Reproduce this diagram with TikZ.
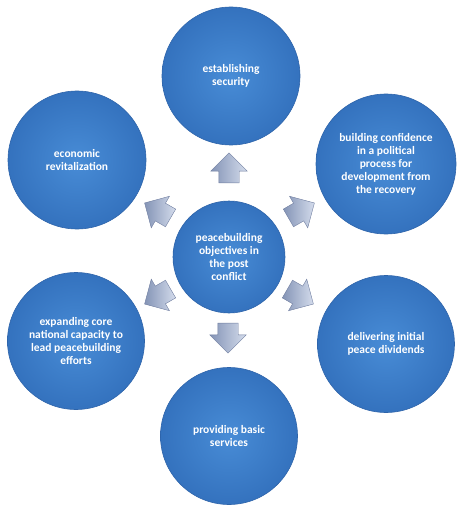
\documentclass[tikz,border=0pt]{standalone}
\usepackage{fontspec}
\setmainfont{Carlito}
\usetikzlibrary{shapes.arrows,shadows}
\definecolor{blueIn}{RGB}{72,140,214}
\definecolor{blueOut}{RGB}{52,114,190}
\definecolor{blueEdge}{RGB}{46,100,170}
\definecolor{arrDark}{RGB}{132,148,182}
\definecolor{arrLight}{RGB}{212,220,236}
\definecolor{arrEdge}{RGB}{112,126,160}
\tikzset{
  bubble/.style={circle, inner sep=0pt, minimum size=#1, draw=blueEdge, line width=0.6pt,
     shading=radial, inner color=blueIn, outer color=blueOut,
     text=white, font=\bfseries\fontsize{11.5}{13}\selectfont, align=center},
  blockarrow/.style={single arrow, draw=arrEdge, line width=0.4pt,
     left color=arrDark, right color=arrLight,
     minimum height=30pt, single arrow head extend=8pt,
     single arrow head indent=0pt,
     inner xsep=0pt, inner ysep=10pt, text width=0pt}
}
\begin{document}
\begin{tikzpicture}[x=1pt,y=-1pt]
\useasboundingbox (0,0) rectangle (471,505);
\node[bubble=112pt] (c) at (229,257) {peacebuilding\\objectives in\\the post\\conflict};
\node[bubble=138pt] (t) at (231,76) {establishing\\security};
\node[bubble=140pt] (ur) at (386,164) {building confidence\\in a political\\process for\\development from\\the recovery};
\node[bubble=137pt] (lr) at (386,344) {delivering initial\\peace dividends};
\node[bubble=137pt] (b) at (229,436) {providing basic\\services};
\node[bubble=137pt] (ll) at (76,341) {expanding core\\national capacity to\\lead peacebuilding\\efforts};
\node[bubble=138pt] (ul) at (77,160) {economic\\revitalization};
\node[blockarrow, rotate=90] (at) at (229,173) {};
\node[blockarrow, rotate=30] (aur) at (297,213) {};
\node[blockarrow, rotate=-30] (alr) at (296,294) {};
\node[blockarrow, rotate=-90] (ab) at (228,333) {};
\node[blockarrow, rotate=-150] (all) at (162,294) {};
\node[blockarrow, rotate=150] (aul) at (162,213) {};
\end{tikzpicture}
\end{document}
